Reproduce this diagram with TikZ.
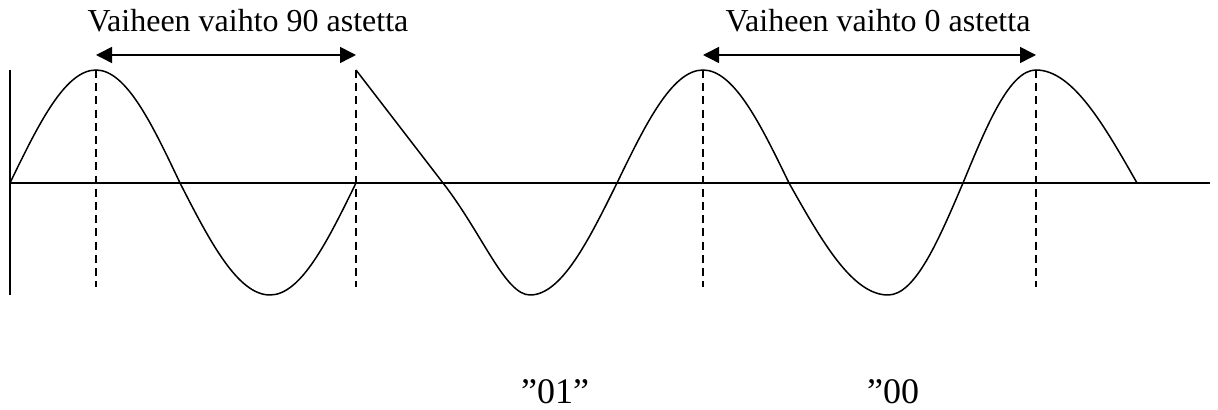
\documentclass[tikz,border=0pt]{standalone}
\usepackage{fontspec}
\setmainfont{Liberation Serif}
\usetikzlibrary{arrows.meta,positioning}

\begin{document}
\begin{tikzpicture}[
    x=0.5pt, y=-0.5pt,
    wave/.style={line width=0.75pt, line join=round},
    axisline/.style={line width=0.75pt},
    guide/.style={line width=0.65pt, dash pattern=on 4pt off 2.6pt},
    span/.style={{Triangle[length=8pt, width=8pt]}-{Triangle[length=8pt, width=8pt]}, line width=0.75pt},
    phaselabel/.style={font=\fontsize{16}{19}\selectfont, inner sep=0pt, anchor=base},
    bitlabel/.style={font=\fontsize{18}{21}\selectfont, inner sep=0pt, anchor=base}
]
\useasboundingbox (0,0) rectangle (1218,410);

% axes
\coordinate (o) at (10,183);
\coordinate (xend) at (1210,183);
\coordinate (ytop) at (10,70);
\coordinate (ybot) at (10,295);
\draw[axisline] (o) -- (xend);
\draw[axisline] (ytop) -- (ybot);

% peaks where the phase is read
\coordinate (p1) at (96,70);
\coordinate (p2) at (356,70);
\coordinate (p3) at (703,70);
\coordinate (p4) at (1036,70);
\coordinate (guidebot) at (0,287);
\coordinate (spanrow) at (0,55);

% carrier, jump at p2
\draw[wave] (o) sin (p1) cos (180,183) sin (270,295) cos (356,183);
\draw[wave] (p2) -- (443,183) .. controls (482,233) and (505,295) .. (530,295)
    cos (617,183) sin (p3)
    cos (789,183) sin (888,295) cos (963,183) sin (p4) cos (1137,183);

% dashed guides
\foreach \p in {p1,p2,p3,p4}
    \draw[guide] (\p) -- (\p |- guidebot);

% phase shift spans
\draw[span] (p1 |- spanrow) -- (p2 |- spanrow);
\draw[span] (p3 |- spanrow) -- (p4 |- spanrow);

\node[phaselabel] (shift90) at (248,32) {Vaiheen vaihto 90 astetta};
\node[phaselabel] (shift0) at (878,32) {Vaiheen vaihto 0 astetta};

% symbols
\node[bitlabel] (bits01) at (555,403) {”01”};
\node[bitlabel] (bits00) at (893,403) {”00};

\end{tikzpicture}
\end{document}
